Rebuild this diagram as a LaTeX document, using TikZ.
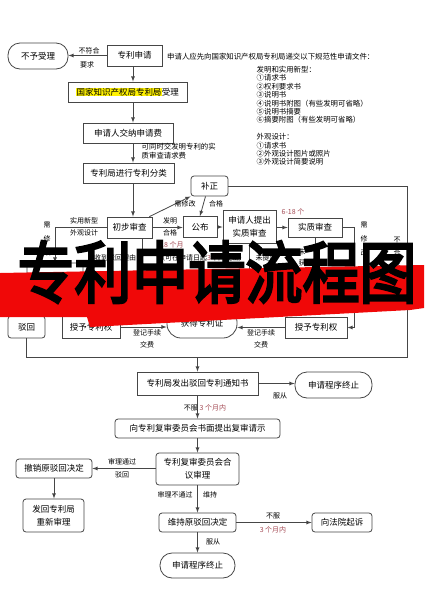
\documentclass[tikz,border=0pt]{standalone}
\usepackage{fontspec}
\setmainfont{Noto Sans CJK SC}
\newfontfamily\brushFont[FakeBold=4]{Noto Sans CJK SC}
\usepackage{xcolor}
\usetikzlibrary{arrows,shapes.misc}
\definecolor{lineGray}{RGB}{70,70,70}
\definecolor{monthRed}{RGB}{165,75,85}
\definecolor{bannerRed}{RGB}{240,8,8}
\newcommand{\boxFont}{\fontsize{8.5}{13}\selectfont}
\newcommand{\labelFont}{\fontsize{7}{12.5}\selectfont}
\newcommand{\listFont}{\fontsize{7.4}{8.4}\selectfont}
\newcommand{\monthText}[1]{\textcolor{monthRed}{#1}}
\tikzset{
  box/.style={draw=lineGray, fill=white, line width=0.8pt, inner sep=0pt, font=\boxFont, align=center},
  roundbox/.style={box, rounded corners=3pt},
  endbox/.style={box, rounded corners=#1},
  endbox/.default=12pt,
  flow/.style={draw=lineGray, line width=0.8pt},
  arr/.style={flow, -latex},
  lbl/.style={font=\labelFont, inner sep=0pt, align=center},
}

\begin{document}
\begin{tikzpicture}[x=1pt, y=-1pt]
\useasboundingbox[fill=white] (0,0) rectangle (424,600);

\node[endbox, minimum width=60pt, minimum height=26pt] (refuse) at (38,56) {不予受理};
\node[box, minimum width=55pt, minimum height=21pt] (apply) at (134.5,55.5) {专利申请};
\node[box, minimum width=119pt, minimum height=20pt] (accept) at (127.5,92) {{\setlength{\fboxsep}{0.3pt}\colorbox{yellow}{国家知识产权局专利局}}受理};
\node[box, minimum width=90pt, minimum height=20pt] (fee) at (128,133) {申请人交纳申请费};
\node[box, minimum width=91pt, minimum height=20pt] (classify) at (128.5,173) {专利局进行专利分类};
\node[box, minimum width=45pt, minimum height=21pt] (prelim) at (129.5,227.5) {初步审查};
\node[roundbox, minimum width=37pt, minimum height=20pt] (amend) at (209.5,186) {补正};
\node[box, minimum width=34pt, minimum height=21pt] (publish) at (200,227) {公布};
\node[box, minimum width=53pt, minimum height=33pt] (request) at (249.5,226.5) {申请人提出\\实质审查};
\node[box, minimum width=54pt, minimum height=19pt] (exam) at (315,227.5) {实质审查};
\node[roundbox, minimum width=56pt, minimum height=40pt] (hiddenL) at (55,283) {};
\node[roundbox, minimum width=37pt, minimum height=22pt] (rejectA) at (26.5,327) {驳回};
\node[box, minimum width=58pt, minimum height=22pt] (grantL) at (91,327) {授予专利权};
\node[endbox=14pt, minimum width=70pt, minimum height=30pt] (cert) at (202,323) {获得专利证};
\node[box, minimum width=62pt, minimum height=21pt] (grantR) at (316,327.5) {授予专利权};
\node[box, minimum width=121pt, minimum height=23pt] (notice) at (197.5,383.5) {专利局发出驳回专利通知书};
\node[endbox, minimum width=77pt, minimum height=26pt] (stopA) at (333.5,385) {申请程序终止};
\node[roundbox, minimum width=165pt, minimum height=19pt] (review) at (197.5,428.5) {向专利复审委员会书面提出复审请示};
\node[roundbox, minimum width=83pt, minimum height=32pt] (board) at (197.5,469) {专利复审委员会合\\议审理};
\node[roundbox, minimum width=76pt, minimum height=19pt] (revoke) at (54,468.5) {撤销原驳回决定};
\node[roundbox, minimum width=61pt, minimum height=33pt] (sendback) at (53.5,515.5) {发回专利局\\重新审理};
\node[roundbox, minimum width=77pt, minimum height=19pt] (keep) at (197.5,522.5) {维持原驳回决定};
\node[roundbox, minimum width=60pt, minimum height=19pt] (court) at (342,522.5) {向法院起诉};
\node[endbox, minimum width=75pt, minimum height=25pt] (stopB) at (197.5,565.5) {申请程序终止};

\coordinate (spine) at (133,0);
\coordinate (rightTurn) at (407,357);
\coordinate (merge) at (197.5,357);
\coordinate (prelimDrop) at (142,300);
\coordinate (requestDrop) at (249.5,300);
\coordinate (examDrop) at (315,300);
\coordinate (examTurn) at (354,327.5);

\draw[arr] (apply.west) -- (apply.west -| refuse.east);
\draw[arr] (apply.south -| spine) -- (accept.north -| spine);
\draw[arr] (accept.south -| spine) -- (fee.north -| spine);
\draw[arr] (fee.south -| spine) -- (classify.north -| spine);
\draw[arr] (classify.south -| spine) -- (prelim.north -| spine);
\draw[arr] (prelim.north east) ++(-3,0) -- (amend.south west);
\draw[arr] (amend.south) ++(-4,0) -- (publish.north);
\draw[arr] (prelim.east) -- (prelim.east -| publish.west);
\draw[arr] (publish.east) -- (publish.east -| request.west);
\draw[arr] (request.east |- exam.west) -- (exam.west);
\draw[arr] (prelim.west) -| (hiddenL.north);
\draw[flow] (prelimDrop |- prelim.south) -- (prelimDrop);
\draw[flow] (request.south) -- (requestDrop);
\draw[flow] (exam.south) -- (examDrop);
\draw[arr] (exam.east) -| (examTurn) -- (grantR.east);
\draw[arr] (grantR.west) -- (grantR.west -| cert.east);
\draw[arr] (grantL.east) -- (grantL.east -| cert.west);
\draw[flow] (amend.east) -| (rightTurn) -- (merge);
\draw[flow] (rejectA.south) |- (merge);
\draw[arr] (merge) -- (notice.north);
\draw[arr] (notice.east) -- (notice.east -| stopA.west);
\draw[arr] (notice.south) -- (review.north);
\draw[arr] (review.south) -- (board.north);
\draw[arr] (board.west |- revoke.east) -- (revoke.east);
\draw[arr] (revoke.south) -- (revoke.south |- sendback.north);
\draw[arr] (board.south) -- (keep.north);
\draw[arr] (keep.east) -- (court.west);
\draw[arr] (keep.south) -- (stopB.north);

\node[lbl] (lNotMeet) at (89,51) {不符合};
\node[lbl] (lDemand) at (87,65) {要求};
\node[lbl, anchor=north west, align=left, font=\listFont] (lFeeTogether) at (141.5,143.5) {可同时交发明专利的实\\质审查请求费};
\node[lbl] (lNeedFix) at (185,204) {需修改};
\node[lbl] (lPassA) at (216,203.5) {合格};
\node[lbl] (lInvent) at (170,220.5) {发明};
\node[lbl] (lPassB) at (170,233) {合格};
\node[lbl] (lMonths) at (293,212) {\monthText{6-18 个}};
\node[lbl] (lUtility) at (84,221) {实用新型};
\node[lbl] (lDesign) at (84,233) {外观设计};
\node[lbl, font=\fontsize{7}{14}\selectfont] (lFixLeft) at (47,239) {需\\修\\改};
\node[lbl] (lReason) at (115,257.5) {收到驳回理由};
\node[lbl, anchor=west] (lEighteen) at (160,244.5) {\monthText{18 个月}};
\node[lbl, anchor=west] (lWithin) at (158,257.5) {（可在申请日起\monthText{3}年内提出）};
\node[lbl] (lNoRequest) at (266,257.5) {未提出};
\node[lbl, font=\fontsize{7}{11.5}\selectfont] (lNotGot) at (302,257.5) {未\\获};
\node[lbl, font=\fontsize{7}{14}\selectfont] (lFixRight) at (364,239) {需\\修\\改};
\node[lbl, font=\fontsize{7}{13}\selectfont] (lFail) at (397,253.5) {不\\合\\格};
\node[lbl] (lRegL) at (147,332.5) {登记手续};
\node[lbl] (lPayL) at (147,344.5) {交费};
\node[lbl] (lRegR) at (261,332.5) {登记手续};
\node[lbl] (lPayR) at (261,344.5) {交费};
\node[lbl] (lObeyA) at (280,395.5) {服从};
\node[lbl] (lAppeal) at (205,408) {不服 \monthText{3 个月内}};
\node[lbl] (lPassRev) at (122,462) {审理通过};
\node[lbl] (lReject) at (122,475) {驳回};
\node[lbl] (lNoPass) at (175,495) {审理不通过};
\node[lbl] (lKeep) at (210,495) {维持};
\node[lbl] (lAppealB) at (273,515.5) {不服};
\node[lbl] (lWithinB) at (273,530) {\monthText{3 个月内}};
\node[lbl] (lObeyB) at (213,542) {服从};

\node[lbl, anchor=west, font=\listFont] (fileHead) at (167,57) {申请人应先向国家知识产权局专利局递交以下规范性申请文件：};
\node[lbl, anchor=north west, align=left, font=\listFont] (fileList) at (256.5,66) {发明和实用新型：\\①请求书\\②权利要求书\\③说明书\\④说明书附图（有些发明可省略）\\⑤说明书摘要\\⑥摘要附图（有些发明可省略）\\[8.4pt]外观设计：\\①请求书\\②外观设计图片或照片\\③外观设计简要说明};

\fill[bannerRed] (0,273) -- (424,265) -- (424,308) -- (410,310) -- (90,327) -- (87,317) -- (0,317) -- cycle;
\node[inner sep=0pt, font=\brushFont\fontsize{57}{57}\selectfont, yscale=1.18, transform shape] (title) at (217,272) {专利申请流程图};
\end{tikzpicture}
\end{document}
